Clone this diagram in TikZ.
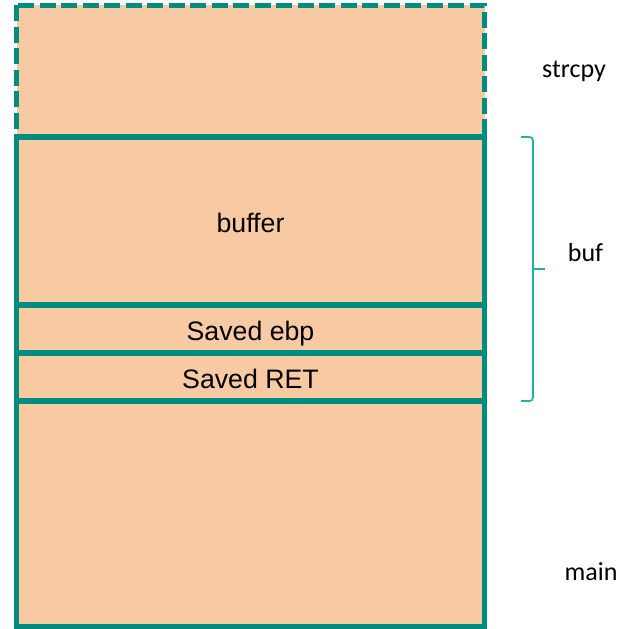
\documentclass[tikz,border=0pt]{standalone}
\usepackage{fontspec}
\setmainfont{Liberation Sans}
\newfontfamily\labelfont{Carlito}
\definecolor{framecol}{RGB}{0,140,126}
\definecolor{fillcol}{RGB}{248,202,164}
\definecolor{bracecol}{RGB}{30,178,166}
\begin{document}
\begin{tikzpicture}[x=1pt,y=-1pt,
  cell/.style={rectangle, draw=framecol, fill=fillcol, line width=5.3pt,
    minimum width=468pt, inner sep=0pt, text=black,
    font=\fontsize{26.7}{32}\selectfont, text height=23pt, text depth=0pt},
  sidelabel/.style={anchor=base, inner sep=0pt, text=black,
    font=\labelfont\fontsize{26}{31}\selectfont}]
\useasboundingbox (0,0) rectangle (624,629);

% frame of the callee (strcpy), dashed
\fill[fillcol] (16.5,5) rectangle (484.5,137);
\draw[framecol, line width=5pt, dash pattern=on 16pt off 5.5pt]
  (16.5,5) rectangle (484.5,137);

% stack cells
\node[cell, minimum height=168pt]   (buffer) at (250.5,221)    {buffer};
\node[cell, minimum height=48pt]    (ebp)    at (250.5,329)    {Saved ebp};
\node[cell, minimum height=48pt]    (ret)    at (250.5,377)    {Saved RET};
\node[cell, minimum height=225.5pt] (main)   at (250.5,513.75) {};

% brace spanning the buf frame
\coordinate (btop) at (521,137);
\coordinate (bbot) at (521,401);
\coordinate (btip) at (545,269);
\draw[bracecol, line width=1.8pt, line join=round]
  (btop) -- (529,137) .. controls (532,137) and (533,138) .. (533,141)
  -- (533,397) .. controls (533,400) and (532,401) .. (529,401) -- (bbot);
\draw[bracecol, line width=1.8pt] (533,269) -- (btip);

% frame names
\node[sidelabel] (lstrcpy) at (574,77)  {strcpy};
\node[sidelabel] (lbuf)    at (585.5,261) {buf};
\node[sidelabel] (lmain)   at (591,580) {main};
\end{tikzpicture}
\end{document}
